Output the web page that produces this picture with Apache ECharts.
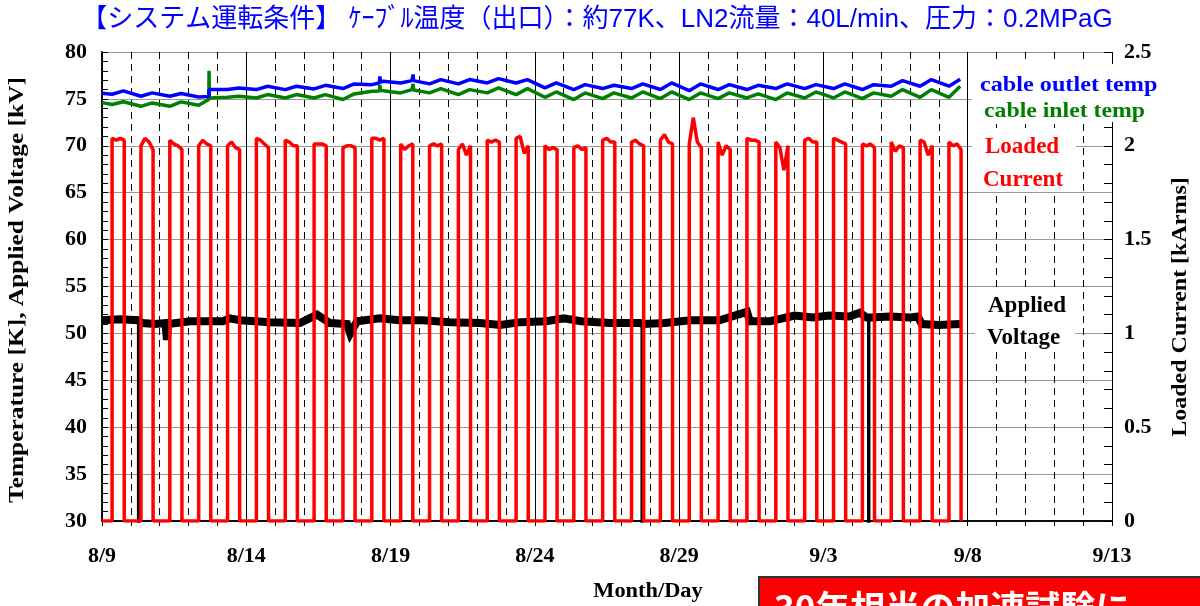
<!DOCTYPE html>
<html><head><meta charset="utf-8">
<script src="https://cdn.jsdelivr.net/npm/echarts@6/dist/echarts.min.js"></script>
<style>html,body{margin:0;padding:0;background:#fff}#c{width:1200px;height:606px}</style>
</head><body><div id="c"></div>
<script>
// ---- data (x = days since 8/9 00:00) ----
const xTickLabels = ['8/9','8/14','8/19','8/24','8/29','9/3','9/8','9/13'];

// cable outlet / inlet temperature [K]: daily trough (morning) and peak (evening) readings
const TROUGH_T = 0.35, PEAK_T = 0.74;
const outletStart = 75.6;
const outletTrough = [75.5,75.28,75.28,75.21,76.0,75.99,75.99,76.06,76.1,76.52,76.7,76.6,76.6,76.7,76.7,76.17,76.0,76.1,76.1,76.0,75.88,76.0,76.0,76.1,76.1,76.1,76.0,76.35,76.35,76.35];
const outletPeak   = [75.85,75.64,75.57,76.0,76.17,76.35,76.35,76.45,76.6,76.88,76.95,77.06,77.06,77.16,77.06,76.7,76.52,76.45,76.6,76.7,76.6,76.52,76.45,76.6,76.52,76.6,76.52,76.95,77.06,77.1];
const outletEvents = [[3.70,75.25],[3.71,76.0],[9.61,76.7],[9.63,77.4],[9.65,76.8],[10.76,76.9],[10.78,77.6],[10.80,76.95]];
const inletStart = 74.6;
const inletTrough = [74.4,74.21,74.21,74.32,75.17,75.1,75.1,75.1,74.93,75.81,75.64,75.64,75.46,75.64,75.46,75.17,74.93,75.03,75.1,75.03,74.93,75.03,75.1,74.93,75.1,75.1,75.03,75.28,75.17,75.17];
const inletPeak   = [74.7,74.57,74.68,75.1,75.28,75.46,75.46,75.46,75.53,75.88,75.99,76.1,75.99,76.17,76.1,75.74,75.64,75.64,75.74,75.74,75.64,75.64,75.53,75.64,75.74,75.74,75.64,75.99,75.99,76.35];
const inletEvents = [[3.70,74.93],[3.71,78.0],[3.72,75.1],[9.61,75.85],[9.63,76.5],[9.65,75.9],[10.76,75.9],[10.78,76.6],[10.80,75.95]];

// loaded current [kArms]: one loading period per day, readings across the flat top
const LOAD_ON = 0.35, LOAD_OFF = 0.77;
const currentTops = [
 [2.04,2.03,2.04,2.03],[2.0,2.04,2.02,1.98],[2.03,2.01,2.0,1.98],[2.0,2.03,2.01,2.0],[2.0,2.02,1.99,1.98],
 [2.04,2.03,2.01,1.99],[2.03,2.02,2.0,2.0],[2.01,2.01,2.01,2.0],[1.99,2.0,2.0,1.99],[2.04,2.04,2.03,2.04],
 [2.01,1.98,2.0,2.01],[2.0,2.01,2.0,2.01],[1.98,2.01,1.95,2.0],[2.03,2.02,2.03,2.02],[2.04,2.05,1.96,2.0],
 [2.0,1.98,1.99,1.98],[1.99,2.0,1.98,1.99],[2.03,2.04,2.02,2.02],[2.02,2.03,2.01,2.0],[2.03,2.06,2.02,2.01],
 [2.01,2.15,2.02,1.99],[2.02,1.95,2.0,1.98],[2.04,2.03,2.03,2.02],[2.02,1.99,1.87,2.0],[2.03,2.04,2.02,2.02],
 [2.04,2.03,2.02,2.01],[2.01,2.0,2.01,1.99],[2.02,1.97,2.0,1.99],[2.03,2.02,1.95,2.0],[2.02,2.0,2.01,1.98]
];

// applied voltage [kV]
const voltage = [
 [0,51.4],[0.62,51.5],[1.25,51.4],[1.40,51.1],[1.84,51.0],[2.2,51.1],[2.25,49.3],[2.29,51.0],
 [3.05,51.3],[4.19,51.3],[4.43,51.6],[4.78,51.4],[5.82,51.2],[6.86,51.1],[7.45,52.0],[7.9,51.1],
 [8.49,51.0],[8.6,50.0],[8.84,51.3],[9.63,51.6],[10.3,51.4],[11.12,51.4],[12.06,51.2],[13.1,51.1],
 [13.8,50.9],[14.5,51.2],[15.4,51.3],[16.0,51.6],[16.6,51.3],[17.6,51.1],[18.64,51.1],
 [18.78,51.0],[19.5,51.1],[20.4,51.4],[21.4,51.4],[22.35,52.3],[22.45,51.3],[23.15,51.3],[24.0,51.9],
 [24.64,51.7],[25.2,51.9],[25.9,51.8],[26.26,52.2],[26.5,51.7],[26.64,51.7],[27.3,51.8],
 [28.0,51.7],[28.27,51.8],[28.41,51.0],[29.0,50.9],[29.73,51.0]
];
// brief voltage trips (to 0 kV): [time, level before trip]
const voltageTrips = [[1.27,51.3],[18.72,51.1],[26.57,51.7]];

// ---- build series data from the arrays ----
function buildTemp(start, trough, peak, events){
  const pts = [[0,start]];
  trough.forEach((v,d)=>{ pts.push([d+TROUGH_T,v]); pts.push([d+PEAK_T,peak[d]]); });
  events.forEach(e=>pts.push(e));
  pts.sort((a,b)=>a[0]-b[0]);
  return pts;
}
const outletData = buildTemp(outletStart, outletTrough, outletPeak, outletEvents);
const inletData = buildTemp(inletStart, inletTrough, inletPeak, inletEvents);
const currentData = [[0,0]];
currentTops.forEach((tops,d)=>{
  const t0 = d+LOAD_ON, t1 = d+LOAD_OFF;
  currentData.push([t0,0]);
  tops.forEach((v,i)=>currentData.push([t0+(t1-t0)*i/(tops.length-1), v]));
  currentData.push([t1,0]);
});
const tripData = [];
voltageTrips.forEach(tr=>{ tripData.push([tr[0],tr[1]],[tr[0],0],null); });

const SERIF = '"Liberation Serif","Times New Roman",serif';
const chart = echarts.init(document.getElementById('c'), null, {renderer:'canvas'});
const lblFont = {fontFamily:SERIF, fontWeight:'bold', fontSize:22, color:'#000'};
const hidden = {axisLabel:{show:false}, splitLine:{show:false}, axisLine:{show:false}};
chart.setOption({
  animation:false,
  backgroundColor:'#fff',
  grid:{left:102, right:88, top:52, bottom:85, containLabel:false},
  xAxis:[{
    type:'value', min:0, max:35, interval:5,
    axisLine:{lineStyle:{color:'#000', width:1.5}},
    axisTick:{show:false},
    axisLabel:Object.assign({margin:24, formatter:v=>xTickLabels[Math.round(v/5)]}, lblFont),
    splitLine:{show:true, lineStyle:{color:'#000', width:1}},
    minorTick:{show:false, splitNumber:5},
    minorSplitLine:{show:true, lineStyle:{color:'#000', width:1, type:[7,5]}}
  },{
    type:'value', min:0, max:35, interval:1, position:'top',
    axisLine:{lineStyle:{color:'#000', width:1.5}},
    axisTick:{show:true, inside:true, length:5, lineStyle:{color:'#000'}},
    axisLabel:{show:false}, splitLine:{show:false}
  }],
  yAxis:[{
    type:'value', min:30, max:80, interval:5,
    axisLine:{show:true, lineStyle:{color:'#000', width:1.5}},
    axisTick:{show:false},
    axisLabel:Object.assign({margin:15, formatter:v=>String(v)}, lblFont),
    splitLine:{show:true, lineStyle:{color:'#999', width:1}}
  },{
    type:'value', min:0, max:2.5, interval:0.5, position:'right',
    axisLine:{show:true, lineStyle:{color:'#000', width:1.5}},
    axisTick:{show:false},
    axisLabel:Object.assign({margin:12, formatter:v=>String(v)}, lblFont),
    splitLine:{show:false}
  },Object.assign({
    type:'value', min:30, max:80, interval:1, position:'left',
    axisTick:{show:true, inside:true, length:6, lineStyle:{color:'#000'}}
  }, hidden),Object.assign({
    type:'value', min:0, max:2.5, interval:0.1, position:'right',
    axisTick:{show:true, inside:true, length:8, lineStyle:{color:'#000'}}
  }, hidden)],
  series:[
    {name:'Applied Voltage', type:'line', xAxisIndex:0, yAxisIndex:0, data:voltage, showSymbol:false,
     lineStyle:{color:'#000', width:8, join:'miter'}, z:2},
    {name:'Voltage trips', type:'line', xAxisIndex:0, yAxisIndex:0, data:tripData, showSymbol:false, connectNulls:false,
     lineStyle:{color:'#000', width:3.5}, z:2},
    {name:'Loaded Current', type:'line', xAxisIndex:0, yAxisIndex:1, data:currentData, showSymbol:false,
     lineStyle:{color:'#ff0000', width:3.5}, z:3},
    {name:'cable inlet temp', type:'line', xAxisIndex:0, yAxisIndex:0, data:inletData, showSymbol:false,
     lineStyle:{color:'#008000', width:3.5}, z:4},
    {name:'cable outlet temp', type:'line', xAxisIndex:0, yAxisIndex:0, data:outletData, showSymbol:false,
     lineStyle:{color:'#0000ff', width:3.5}, z:5}
  ],
  graphic:[
    {type:'text', x:597, y:20, z:100, style:{text:'【システム運転条件】 ｹｰﾌﾞﾙ温度（出口）：約77K、LN2流量：40L/min、圧力：0.2MPaG', fill:'#0000ff', font:'26px "Liberation Sans","Noto Sans CJK JP"', textAlign:'center', textVerticalAlign:'middle'}},
    {type:'rect', z:100, shape:{x:972, y:64, width:190, height:58}, style:{fill:'#fff'}},
    {type:'rect', z:100, shape:{x:972, y:128, width:104, height:64}, style:{fill:'#fff'}},
    {type:'rect', z:100, shape:{x:975, y:292, width:100, height:60}, style:{fill:'#fff'}},
    {type:'text', z:101, x:980, y:85, scaleX:1.1, style:{text:'cable outlet temp', fill:'#0000ff', font:'bold 22px '+SERIF, textVerticalAlign:'middle'}},
    {type:'text', z:101, x:984, y:111, scaleX:1.08, style:{text:'cable inlet temp', fill:'#008000', font:'bold 22px '+SERIF, textVerticalAlign:'middle'}},
    {type:'text', z:101, x:985, y:147, style:{text:'Loaded', fill:'#ff0000', font:'bold 23px '+SERIF, textVerticalAlign:'middle'}},
    {type:'text', z:101, x:983, y:180, style:{text:'Current', fill:'#ff0000', font:'bold 23px '+SERIF, textVerticalAlign:'middle'}},
    {type:'text', z:101, x:988, y:306, style:{text:'Applied', fill:'#000', font:'bold 23px '+SERIF, textVerticalAlign:'middle'}},
    {type:'text', z:101, x:987, y:338, style:{text:'Voltage', fill:'#000', font:'bold 23px '+SERIF, textVerticalAlign:'middle'}},
    {type:'text', z:101, x:18, y:290, rotation:Math.PI/2, scaleX:1.27, style:{text:'Temperature [K], Applied Voltage [kV]', fill:'#000', font:'bold 20px '+SERIF, textAlign:'center', textVerticalAlign:'middle'}},
    {type:'text', z:101, x:1181, y:307, rotation:Math.PI/2, scaleX:1.2, style:{text:'Loaded Current [kArms]', fill:'#000', font:'bold 20px '+SERIF, textAlign:'center', textVerticalAlign:'middle'}},
    {type:'text', z:101, x:648, y:592, scaleX:1.12, style:{text:'Month/Day', fill:'#000', font:'bold 20px '+SERIF, textAlign:'center', textVerticalAlign:'middle'}},
    {type:'rect', z:102, shape:{x:759, y:577, width:460, height:40}, style:{fill:'#ff0000', stroke:'#333', lineWidth:2}},
    {type:'text', z:103, x:774, y:590, style:{text:'30年相当の加速試験に', fill:'#fff', font:'bold 35px "Noto Sans CJK JP"', textVerticalAlign:'top'}}
  ]
});
</script></body></html>
